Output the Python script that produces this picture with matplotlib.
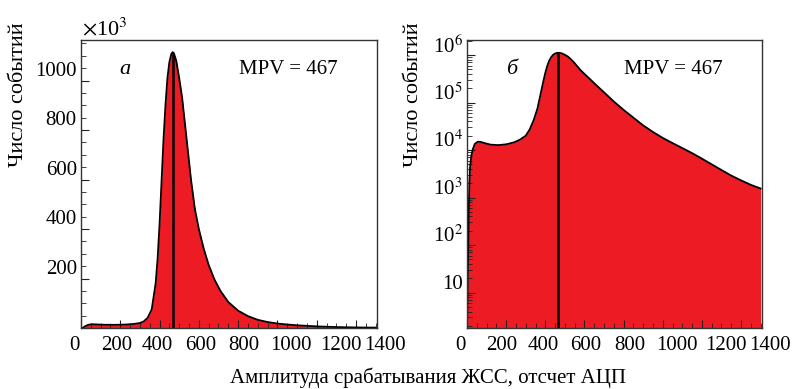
import numpy as np
import matplotlib
matplotlib.use("Agg")
import matplotlib.pyplot as plt
from matplotlib.ticker import MultipleLocator, FixedLocator, LogLocator, FuncFormatter, NullFormatter
from matplotlib.transforms import ScaledTranslation

plt.rcParams['font.family'] = ['Liberation Serif', 'DejaVu Serif']
plt.rcParams['mathtext.fontset'] = 'stix'

# ---- data: amplitude spectrum (ADC counts vs number of events) ----
amp = [0, 4, 8, 12, 16, 22, 30, 40, 55, 70, 90, 120, 160, 200, 240, 270, 300,
       320, 340, 360, 380, 390, 400, 410, 420, 430, 440, 450, 460, 467, 475,
       485, 500, 515, 530, 545, 560, 580, 600, 625, 650, 680, 710, 750, 800,
       850, 900, 950, 1000, 1050, 1100, 1150, 1200, 1250, 1300, 1350, 1400,
       1450, 1500]
events = [2, 20, 300, 2000, 4500, 7500, 10500, 13500, 15000, 14800, 14000,
          13000, 12700, 13200, 14500, 16500, 20000, 27000, 42000, 75000,
          180000, 280000, 420000, 590000, 760000, 900000, 1010000, 1075000,
          1108000, 1115000, 1105000, 1080000, 1010000, 930000, 820000, 710000,
          600000, 480000, 400000, 320000, 255000, 195000, 150000, 105000,
          70000, 48000, 33000, 24000, 18000, 14000, 11000, 8600, 6600, 5000,
          3800, 2900, 2300, 1850, 1550]
mpv = 467
x_ticks = [0, 200, 400, 600, 800, 1000, 1200, 1400]
lin_ticks = [200, 400, 600, 800, 1000]
panel_letters = ['а', 'б']
xlabel = 'Амплитуда срабатывания ЖСС, отсчет АЦП'
ylabel = 'Число событий'

amp = np.array(amp, dtype=float)
events = np.array(events, dtype=float)
peak = np.interp(mpv, amp, events)

RED = '#ED1C24'
FS = 15

fig = plt.figure(figsize=(7.94, 3.89), dpi=100)
ax1 = fig.add_axes([81/794, 61/389, 296/794, 288/389])
ax2 = fig.add_axes([467/794, 61/389, 295/794, 288/389])

# ---- (а) linear ----
ax1.fill_between(amp, 0, events/1000, color=RED, lw=0)
ax1.plot(amp, events/1000, color='black', lw=1.3)
ax1.vlines(mpv, 0, peak/1000, color='black', lw=1.8)
ax1.set_ylim(0, 1164)
ax1.yaxis.set_major_locator(FixedLocator(lin_ticks))
ax1.yaxis.set_minor_locator(MultipleLocator(50))
ax1.text(0.005, 1.0, r'$\times$10$^3$', transform=ax1.transAxes,
         fontsize=16, ha='left', va='bottom')

# ---- (б) log ----
ymin = 1.8
ax2.fill_between(amp, 0.1, events, color=RED, lw=0)
ax2.plot(amp, events, color='black', lw=1.3)
ax2.vlines(mpv, ymin, peak, color='black', lw=1.8)
ax2.set_yscale('log')
ax2.set_ylim(ymin, 2.07e6)
ax2.yaxis.set_major_locator(LogLocator(base=10, numticks=10))
ax2.yaxis.set_minor_locator(LogLocator(base=10, subs=np.arange(2, 10), numticks=20))
ax2.yaxis.set_minor_formatter(NullFormatter())


def log_fmt(v, pos):
    e = int(round(np.log10(v)))
    if e == 1:
        return '10'
    return r'10$^{%d}$' % e


ax2.yaxis.set_major_formatter(FuncFormatter(log_fmt))

for ax, letter, lx in [(ax1, panel_letters[0], -0.179), (ax2, panel_letters[1], -0.148)]:
    ax.set_xlim(0, 1507)
    ax.xaxis.set_major_locator(FixedLocator(x_ticks))
    ax.xaxis.set_minor_locator(MultipleLocator(50))
    ax.tick_params(which='both', direction='in', top=False, right=False,
                   labelsize=FS, color='#222222')
    ax.tick_params(which='major', length=6)
    ax.tick_params(which='minor', length=3.5)
    ax.tick_params(axis='x', pad=6)
    ax.tick_params(axis='y', pad=3)
    for s in ax.spines.values():
        s.set_color('#333333')
        s.set_linewidth(1.0)
    ax.text(0.15, 0.896, letter, transform=ax.transAxes, fontsize=16,
            style='italic', ha='center', va='center')
    ax.text(0.70, 0.896, 'MPV = %d' % mpv, transform=ax.transAxes,
            fontsize=15, ha='center', va='center')
    ax.set_ylabel(ylabel, fontsize=16)
    ax.yaxis.set_label_coords(lx, 0.81)

fig.text(428/794, 1 - 378/389, xlabel, fontsize=15, ha='center', va='center')

# tick labels in the original are spread out a bit and sit above their ticks
x_shift = {0: -7, 200: -4, 400: -2, 600: 1.5, 800: 6, 1000: 14, 1200: 24, 1400: 29}
fig.canvas.draw()
for ax, dy in [(ax1, 12), (ax2, 11)]:
    for t in ax.xaxis.get_major_ticks():
        dx = x_shift.get(int(round(t.get_loc())), 0)
        t.label1.set_transform(t.label1.get_transform() +
                               ScaledTranslation(dx/100, 0, fig.dpi_scale_trans))
    for t in ax.yaxis.get_major_ticks():
        t.label1.set_transform(t.label1.get_transform() +
                               ScaledTranslation(0, dy/100, fig.dpi_scale_trans))

fig.savefig('out.png', dpi=100)
